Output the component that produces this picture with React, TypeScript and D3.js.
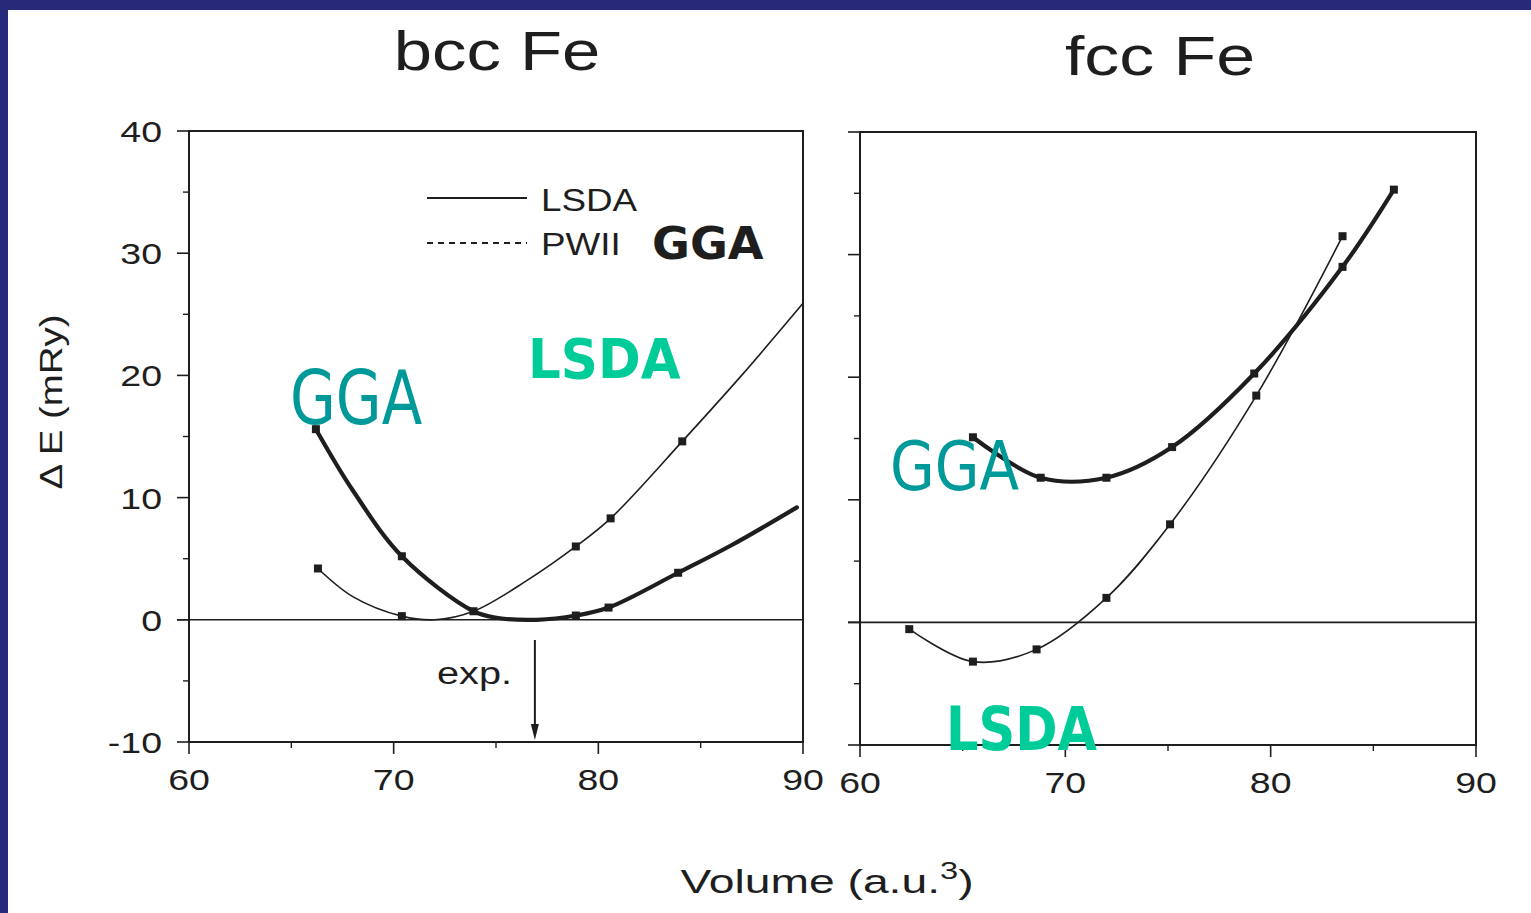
import React from "react";
import * as d3 from "d3";

// ---------- data ----------
const xTicks = [60, 70, 80, 90];
const xMinorTicks = [65, 75, 85];
const yTicks = [40, 30, 20, 10, 0, -10];
const yMinorTicks = [35, 25, 15, 5, -5];

// bcc Fe
const bccLsdaV = [66.3, 68.0, 70.4, 72.0, 73.9, 76.5, 78.9, 80.6, 84.1, 87.0, 90.0];
const bccLsdaE = [4.2, 1.9, 0.3, 0.0, 0.7, 3.2, 6.0, 8.3, 14.6, 20.0, 25.9];
const bccLsdaMark = [true, false, true, false, false, false, true, true, true, false, false];

const bccGgaV = [66.2, 68.0, 70.4, 73.9, 75.1, 77.0, 78.9, 80.5, 83.9, 86.5, 89.7];
const bccGgaE = [15.6, 10.6, 5.2, 0.7, 0.15, 0.0, 0.35, 1.0, 3.85, 6.1, 9.2];
const bccGgaMark = [true, false, true, true, false, false, true, true, true, false, false];

const expVolume = 76.9;

// fcc Fe
const fccLsdaV = [62.4, 65.5, 68.6, 72.0, 75.1, 79.3, 83.5];
const fccLsdaE = [-0.55, -3.2, -2.2, 2.0, 8.0, 18.5, 31.5];

const fccGgaV = [65.5, 68.8, 72.0, 75.2, 79.2, 83.5, 86.0];
const fccGgaE = [15.1, 11.8, 11.8, 14.3, 20.3, 29.0, 35.3];

const INK = "#1e1e1e";
const NAVY = "#29297a";
const TEAL = "#009999";
const GREEN = "#00cc99";
const FONT = "'Liberation Sans', Arial, sans-serif";
const OFONT = "'DejaVu Sans', Verdana, sans-serif";

type Pt = [number, number];

const zip = (v: number[], e: number[]): Pt[] => v.map((x, i) => [x, e[i]]);

function STxt(props: {
  x: number; y: number; size: number; sx?: number; anchor?: string;
  fill?: string; weight?: string | number; family?: string; children: React.ReactNode; rotate?: number;
}) {
  const { x, y, size, sx = 1, anchor = "start", fill = INK, weight = "normal", family = FONT, rotate = 0 } = props;
  return (
    <text
      transform={`translate(${x},${y}) rotate(${rotate}) scale(${sx},1)`}
      fontSize={size}
      fontFamily={family}
      fontWeight={weight as any}
      textAnchor={anchor as any}
      fill={fill}
    >
      {props.children}
    </text>
  );
}

function Panel(props: {
  x0: number; x1: number; y0: number; y1: number; labels: boolean;
  children: (x: d3.ScaleLinear<number, number>, y: d3.ScaleLinear<number, number>) => React.ReactNode;
}) {
  const { x0, x1, y0, y1, labels } = props;
  const x = d3.scaleLinear().domain([60, 90]).range([x0, x1]);
  const y = d3.scaleLinear().domain([-10, 40]).range([y1, y0]);
  return (
    <g>
      <rect x={x0} y={y0} width={x1 - x0} height={y1 - y0} fill="none" stroke={INK} strokeWidth={2} />
      {/* zero line */}
      <line x1={x0 - 12} x2={x1} y1={y(0)} y2={y(0)} stroke={INK} strokeWidth={1.6} />
      {yTicks.map((t) => (
        <line key={"yt" + t} x1={x0 - 12} x2={x0} y1={y(t)} y2={y(t)} stroke={INK} strokeWidth={1.6} />
      ))}
      {yMinorTicks.map((t) => (
        <line key={"ym" + t} x1={x0 - 6} x2={x0} y1={y(t)} y2={y(t)} stroke={INK} strokeWidth={1.4} />
      ))}
      {xTicks.map((t) => (
        <line key={"xt" + t} x1={x(t)} x2={x(t)} y1={y1} y2={y1 + 12} stroke={INK} strokeWidth={1.6} />
      ))}
      {xMinorTicks.map((t) => (
        <line key={"xm" + t} x1={x(t)} x2={x(t)} y1={y1} y2={y1 + 6} stroke={INK} strokeWidth={1.4} />
      ))}
      {labels &&
        yTicks.map((t) => (
          <STxt key={"yl" + t} x={x0 - 27} y={y(t) + 11} size={30} sx={1.25} anchor="end">
            {t}
          </STxt>
        ))}
      {xTicks.map((t) => (
        <STxt key={"xl" + t} x={x(t)} y={y1 + 48} size={30} sx={1.25} anchor="middle">
          {t}
        </STxt>
      ))}
      {props.children(x, y)}
    </g>
  );
}

function Curve(props: {
  pts: Pt[]; marks?: boolean[]; x: d3.ScaleLinear<number, number>; y: d3.ScaleLinear<number, number>;
  width: number; ms: number;
}) {
  const { pts, marks, x, y, width, ms } = props;
  const line = d3
    .line<Pt>()
    .x((d) => x(d[0]))
    .y((d) => y(d[1]))
    .curve(d3.curveCatmullRom.alpha(0.5));
  return (
    <g>
      <path d={line(pts) || ""} fill="none" stroke={INK} strokeWidth={width} strokeLinejoin="round" strokeLinecap="round" />
      {pts.map((p, i) =>
        !marks || marks[i] ? (
          <rect key={i} x={x(p[0]) - ms / 2} y={y(p[1]) - ms / 2} width={ms} height={ms} fill={INK} />
        ) : null
      )}
    </g>
  );
}

export default function App() {
  return (
    <svg
      width={1531}
      height={913}
      style={{ position: "absolute", left: 0, top: 0, background: "#fff" }}
    >
      <rect x={0} y={0} width={1531} height={913} fill="#fff" />
      <rect x={0} y={0} width={1531} height={10} fill={NAVY} />
      <rect x={0} y={0} width={8} height={913} fill={NAVY} />

      {/* titles */}
      <STxt x={497} y={70} size={55} sx={1.25} anchor="middle">bcc Fe</STxt>
      <STxt x={1160} y={75} size={55} sx={1.27} anchor="middle">fcc Fe</STxt>

      {/* axis titles */}
      <STxt x={62} y={402} size={32} sx={1.2} anchor="middle" rotate={-90}>Δ E (mRy)</STxt>
      <text
        transform="translate(827,893) scale(1.36,1)"
        fontSize={34}
        fontFamily={FONT}
        textAnchor="middle"
        fill={INK}
      >
        Volume (a.u.<tspan dy={-14} fontSize={24}>3</tspan>
        <tspan dy={14}>)</tspan>
      </text>

      {/* bcc panel */}
      <Panel x0={189} x1={803} y0={131} y1={742} labels={true}>
        {(x, y) => (
          <g>
            <Curve pts={zip(bccLsdaV, bccLsdaE)} marks={bccLsdaMark} x={x} y={y} width={1.6} ms={8} />
            <Curve pts={zip(bccGgaV, bccGgaE)} marks={bccGgaMark} x={x} y={y} width={4.2} ms={8} />
            {/* legend */}
            <line x1={427} x2={527} y1={198} y2={198} stroke={INK} strokeWidth={2} />
            <line x1={427} x2={527} y1={243} y2={243} stroke={INK} strokeWidth={2} strokeDasharray="6,5" />
            <STxt x={541} y={211} size={32} sx={1.15}>LSDA</STxt>
            <STxt x={541} y={255} size={32} sx={1.15}>PWII</STxt>
            <STxt x={652} y={259} size={44} sx={1.05} weight="bold" family={OFONT}>GGA</STxt>
            {/* experimental volume arrow */}
            <line x1={x(expVolume)} x2={x(expVolume)} y1={640} y2={728} stroke={INK} strokeWidth={2} />
            <path
              d={`M${x(expVolume) - 4},${724} L${x(expVolume) + 4},${724} L${x(expVolume)},${740} Z`}
              fill={INK}
            />
            <STxt x={437} y={684} size={31} sx={1.28}>exp.</STxt>
          </g>
        )}
      </Panel>

      {/* fcc panel */}
      <Panel x0={860} x1={1476} y0={132} y1={745} labels={false}>
        {(x, y) => (
          <g>
            <Curve pts={zip(fccLsdaV, fccLsdaE)} x={x} y={y} width={1.6} ms={8} />
            <Curve pts={zip(fccGgaV, fccGgaE)} x={x} y={y} width={4.2} ms={8} />
          </g>
        )}
      </Panel>

      {/* overlay labels */}
      <STxt x={290} y={424} size={74} sx={0.8} fill={TEAL} family={OFONT}>GGA</STxt>
      <STxt x={528} y={378} size={56} sx={0.92} fill={GREEN} weight="bold" family={OFONT}>LSDA</STxt>
      <STxt x={890} y={490} size={68} sx={0.85} fill={TEAL} family={OFONT}>GGA</STxt>
      <STxt x={946} y={750} size={60} sx={0.85} fill={GREEN} weight="bold" family={OFONT}>LSDA</STxt>
    </svg>
  );
}
